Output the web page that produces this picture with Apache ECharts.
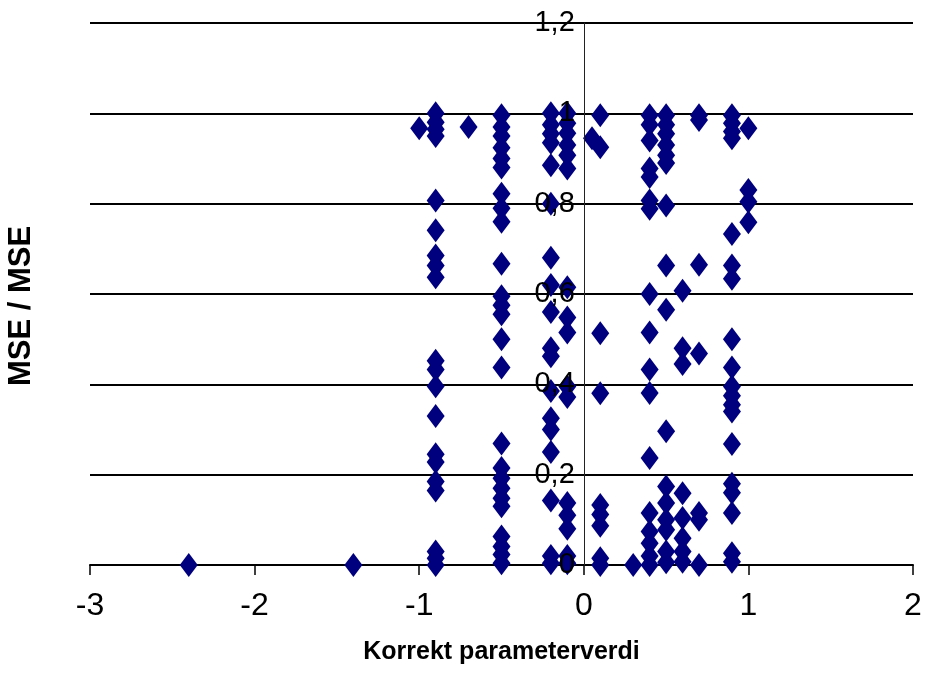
<!DOCTYPE html>
<html>
<head>
<meta charset="utf-8">
<script src="https://cdn.jsdelivr.net/npm/echarts@6/dist/echarts.min.js"></script>
<style>
  html, body { margin: 0; padding: 0; background: #ffffff; }
  #chart { width: 925px; height: 693px; }
</style>
</head>
<body>
<div id="chart"></div>
<script>
// MSE ratio observed at each correct parameter value, one array per x position
const colNeg24 = [0];
const colNeg14 = [0];
const colNeg10 = [0.967];
const colNeg09 = [1.0, 0.98, 0.965, 0.95, 0.807, 0.741, 0.685, 0.663, 0.637, 0.452, 0.433, 0.396, 0.33, 0.245, 0.228, 0.185, 0.165, 0.03, 0.015, 0.0];
const colNeg07 = [0.97];
const colNeg05 = [0.996, 0.97, 0.95, 0.924, 0.9, 0.88, 0.822, 0.79, 0.76, 0.667, 0.595, 0.575, 0.555, 0.5, 0.437, 0.269, 0.215, 0.192, 0.17, 0.148, 0.13, 0.063, 0.041, 0.023, 0.004];
const colNeg02 = [1.0, 0.975, 0.955, 0.935, 0.885, 0.8, 0.68, 0.62, 0.56, 0.48, 0.462, 0.385, 0.325, 0.3, 0.25, 0.143, 0.02, 0.004];
const colNeg01 = [1.0, 0.978, 0.956, 0.93, 0.907, 0.878, 0.615, 0.548, 0.515, 0.395, 0.372, 0.137, 0.11, 0.08, 0.02, 0.004];
const colPos005 = [0.945];
const colPos01 = [0.996, 0.925, 0.513, 0.38, 0.133, 0.112, 0.087, 0.015, 0.0];
const colPos03 = [0.0];
const colPos04 = [0.996, 0.975, 0.94, 0.878, 0.859, 0.807, 0.789, 0.6, 0.515, 0.433, 0.381, 0.237, 0.115, 0.074, 0.048, 0.02, 0.0];
const colPos05 = [0.996, 0.975, 0.955, 0.93, 0.907, 0.89, 0.796, 0.663, 0.565, 0.296, 0.174, 0.137, 0.1, 0.078, 0.03, 0.006];
const colPos06 = [0.607, 0.48, 0.445, 0.159, 0.104, 0.059, 0.03, 0.007];
const colPos07 = [0.996, 0.985, 0.665, 0.468, 0.115, 0.1, 0.0];
const colPos09 = [0.996, 0.978, 0.96, 0.945, 0.733, 0.663, 0.634, 0.5, 0.437, 0.395, 0.375, 0.355, 0.34, 0.268, 0.18, 0.16, 0.115, 0.026, 0.007];
const colPos10 = [0.967, 0.83, 0.804, 0.759];

const xValues = [-2.4, -1.4, -1.0, -0.9, -0.7, -0.5, -0.2, -0.1, 0.05, 0.1, 0.3, 0.4, 0.5, 0.6, 0.7, 0.9, 1.0];
const yColumns = [colNeg24, colNeg14, colNeg10, colNeg09, colNeg07, colNeg05, colNeg02, colNeg01,
                  colPos005, colPos01, colPos03, colPos04, colPos05, colPos06, colPos07, colPos09, colPos10];

const xAxisTitle = 'Korrekt parameterverdi';
const yAxisTitle = 'MSE / MSE';

const points = [];
xValues.forEach((x, i) => {
  yColumns[i].forEach(y => points.push([x, y]));
});

const X_MIN = -3, X_MAX = 2;
const GRID = { left: 90, right: 12, top: 23, bottom: 128 };
const CHART_W = 925;
// the value axis crosses the horizontal axis at x = 0
const plotWidth = CHART_W - GRID.left - GRID.right;
const zeroOffset = -plotWidth * (0 - X_MIN) / (X_MAX - X_MIN);

const sans = '"Liberation Sans Narrow", "Arial Narrow", "Liberation Sans", Arial, sans-serif';
const yScale = { type: 'value', min: 0, max: 1.2, interval: 0.2 };

const chart = echarts.init(document.getElementById('chart'), null, { renderer: 'canvas' });
chart.setOption({
  animation: false,
  backgroundColor: '#ffffff',
  grid: Object.assign({ containLabel: false, outerBoundsMode: 'none' }, GRID),
  xAxis: {
    type: 'value', min: X_MIN, max: X_MAX, interval: 1,
    axisLine: { onZero: true, lineStyle: { color: '#000000', width: 2 } },
    axisTick: { show: true, length: 10, lineStyle: { color: '#000000', width: 1.5 } },
    axisLabel: { margin: 25, fontFamily: sans, fontSize: 32, color: '#000000' },
    splitLine: { show: false },
    name: xAxisTitle, nameLocation: 'middle', nameGap: 75,
    nameTextStyle: { fontFamily: sans, fontWeight: 'bold', fontSize: 25, color: '#000000' }
  },
  yAxis: [
    // horizontal grid lines, beneath the markers
    Object.assign({}, yScale, {
      position: 'left', z: 0,
      axisLine: { show: false, onZero: false },
      axisTick: { show: false },
      axisLabel: { show: false },
      splitLine: { show: true, lineStyle: { color: '#000000', width: 2 } }
    }),
    // vertical axis through x = 0, labels drawn above the markers
    Object.assign({}, yScale, {
      position: 'left', offset: zeroOffset, z: 10,
      axisLine: { show: true, onZero: false, lineStyle: { color: '#222222', width: 1 } },
      axisTick: { show: false },
      axisLabel: {
        margin: 9, fontFamily: sans, fontSize: 29, color: '#000000',
        formatter: v => String(+v.toFixed(1)).replace('.', ',')
      },
      splitLine: { show: false }
    }),
    // axis title on the left edge
    Object.assign({}, yScale, {
      position: 'left', z: 0,
      axisLine: { show: false, onZero: false },
      axisTick: { show: false },
      axisLabel: { show: false },
      splitLine: { show: false },
      name: yAxisTitle, nameLocation: 'middle', nameGap: 53,
      nameTextStyle: {
        fontFamily: '"Liberation Sans", Arial, sans-serif', fontWeight: 'bold', fontSize: 31, color: '#000000',
        padding: [0, 24, 0, 0]
      }
    })
  ],
  series: [{
    type: 'scatter',
    xAxisIndex: 0, yAxisIndex: 0,
    symbol: 'diamond',
    symbolSize: [18, 24],
    itemStyle: { color: '#00007f', opacity: 1 },
    z: 2,
    data: points
  }]
});
</script>
</body>
</html>
